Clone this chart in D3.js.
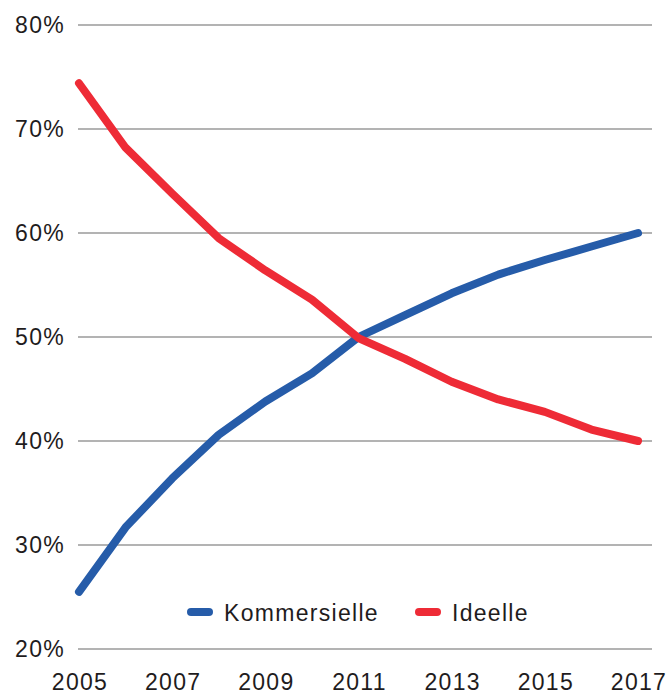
<!DOCTYPE html>
<html>
<head>
<meta charset="utf-8">
<script src="https://cdn.jsdelivr.net/npm/d3@7"></script>
<style>
  body { margin: 0; background: #fff; }
  text { font-family: "Liberation Sans", Arial, sans-serif; font-size: 23px; fill: #1f1c1d; letter-spacing: 1.3px; }
</style>
</head>
<body>
<div id="chart"></div>
<script>
// values, in percent
const years = [2005, 2006, 2007, 2008, 2009, 2010, 2011, 2012, 2013, 2014, 2015, 2016, 2017];
const kommersielle = [25.5, 31.7, 36.4, 40.6, 43.8, 46.5, 50.0, 52.1, 54.2, 56.0, 57.4, 58.7, 60.0];
const ideelle = [74.4, 68.2, 63.8, 59.5, 56.4, 53.6, 49.9, 47.9, 45.7, 44.0, 42.8, 41.1, 40.0];
const yTicks = [20, 30, 40, 50, 60, 70, 80];
const xTicks = [2005, 2007, 2009, 2011, 2013, 2015, 2017];
const seriesNames = ["Kommersielle", "Ideelle"];
const colors = ["#265ca9", "#ee2b36"];

const width = 668, height = 693;

const svg = d3.select("#chart").append("svg")
  .attr("width", width)
  .attr("height", height);

const x = d3.scaleLinear().domain([2005, 2017]).range([79, 638]);
const y = d3.scaleLinear().domain([20, 80]).range([649, 25]);

// grid
svg.append("g")
  .selectAll("line")
  .data(yTicks)
  .enter().append("line")
  .attr("x1", 78)
  .attr("x2", 652)
  .attr("y1", d => y(d))
  .attr("y2", d => y(d))
  .attr("stroke", "#9a9a9a")
  .attr("stroke-width", 1.5);

// y labels
svg.append("g")
  .attr("text-anchor", "end")
  .selectAll("text")
  .data(yTicks)
  .enter().append("text")
  .attr("x", 65)
  .attr("y", d => y(d))
  .attr("dy", "0.36em")
  .text(d => d + "%");

// x labels
svg.append("g")
  .attr("text-anchor", "middle")
  .selectAll("text")
  .data(xTicks)
  .enter().append("text")
  .attr("x", d => x(d) + 1)
  .attr("y", 690)
  .text(d => d);

const line = d3.line()
  .x((d, i) => x(years[i]))
  .y(d => y(d));

const series = [kommersielle, ideelle];

svg.append("g")
  .selectAll("path")
  .data(series)
  .enter().append("path")
  .attr("d", line)
  .attr("fill", "none")
  .attr("stroke", (d, i) => colors[i])
  .attr("stroke-width", 8)
  .attr("stroke-linecap", "round")
  .attr("stroke-linejoin", "round");

// legend
const legendX = [191, 419];
const legend = svg.append("g")
  .selectAll("g")
  .data(seriesNames)
  .enter().append("g")
  .attr("transform", (d, i) => `translate(${legendX[i]},612)`);

legend.append("line")
  .attr("x1", 0)
  .attr("x2", 18)
  .attr("stroke", (d, i) => colors[i])
  .attr("stroke-width", 8)
  .attr("stroke-linecap", "round");

legend.append("text")
  .attr("x", 33)
  .attr("y", 9)
  .text(d => d);
</script>
</body>
</html>
